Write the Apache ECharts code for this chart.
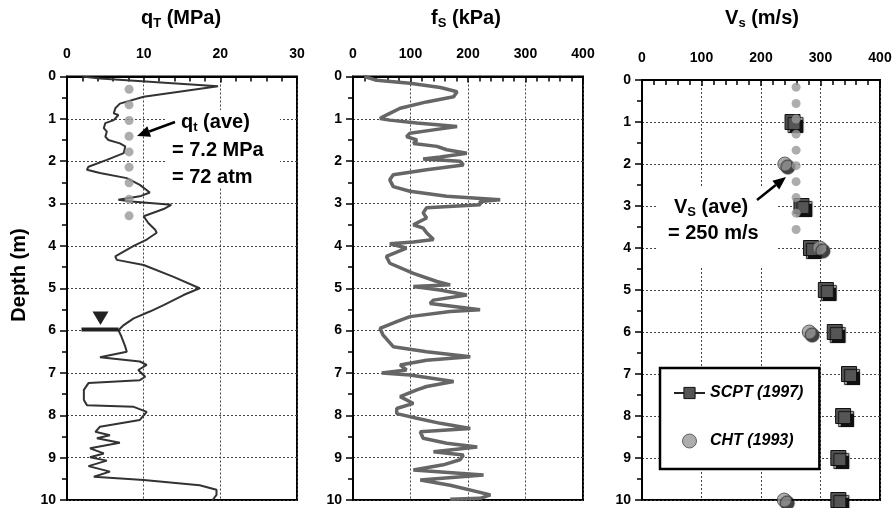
<!DOCTYPE html>
<html>
<head>
<meta charset="utf-8">
<script src="https://cdn.jsdelivr.net/npm/echarts@6/dist/echarts.min.js"></script>
<style>html,body{margin:0;padding:0;background:#fff;}#c{width:896px;height:508px;}</style>
</head>
<body>
<div id="c"></div>
<script>
// ---- data ----
var qtDepth = [0,0.05,0.23,0.48,0.64,0.75,0.87,0.91,1.03,1.1,1.22,1.3,1.42,1.5,1.58,1.65,1.81,1.97,2.13,2.2,2.28,2.4,2.56,2.74,2.83,2.91,2.95,3.03,3.13,3.3,3.46,3.62,3.69,3.85,4.0,4.25,4.33,4.45,4.73,5.0,5.16,5.28,5.4,5.55,5.71,5.87,5.99,6.14,6.38,6.5,6.63,6.73,6.81,6.93,7.09,7.17,7.24,7.4,7.64,7.76,7.8,7.92,8.11,8.27,8.39,8.47,8.54,8.65,8.78,8.9,8.99,9.07,9.2,9.33,9.45,9.53,9.65,9.76,9.88,10];
var qtValue = [2,4.3,19.7,10,6.9,6.3,6.1,6.7,6.1,5.0,4.8,5.2,5.0,5.4,6.9,7.6,7.4,5.2,2.8,2.6,4.3,7.8,9.5,10.8,9.5,6.7,8.4,13.6,12.6,10,10.6,11.5,11.7,10.4,8.7,6.3,6.5,10,13.9,17.3,15.2,13.9,12.6,10.8,8.7,7.4,6.7,7.1,7.6,7.8,4.3,9.5,10.4,9.3,10.2,9.5,2.8,2.2,2.2,2.6,8.7,10.4,9.5,4.3,3.7,5.6,3.9,6.9,3.0,4.8,3.0,5.2,2.8,5.6,3.5,10,17.3,19.5,19.5,19];
var qtAveDepth = [0.3,0.67,1.04,1.41,1.78,2.14,2.51,2.9,3.29];
var qtAveValue = 8.1;

var fsDepth = [0,0.09,0.16,0.26,0.36,0.48,0.6,0.75,0.87,0.95,0.99,1.03,1.1,1.18,1.26,1.34,1.42,1.5,1.58,1.65,1.73,1.81,1.9,1.95,2.0,2.09,2.2,2.32,2.44,2.6,2.71,2.83,2.91,2.95,3.03,3.1,3.22,3.34,3.5,3.58,3.69,3.85,3.91,3.95,4.05,4.25,4.41,4.65,4.84,4.92,4.96,5.04,5.16,5.28,5.36,5.51,5.55,5.67,5.79,5.95,6.1,6.38,6.5,6.62,6.7,6.81,6.93,7.0,7.05,7.2,7.32,7.4,7.56,7.72,7.84,7.96,8.07,8.19,8.31,8.39,8.54,8.66,8.75,8.86,8.94,9.05,9.17,9.29,9.41,9.53,9.65,9.88,9.96,9.98];
var fsValue = [20,41,99,152,181,175,128,82,64,52,47,64,111,181,140,99,93,111,105,146,163,198,152,122,186,192,128,70,64,70,99,163,256,221,221,128,122,128,105,122,128,140,105,64,93,58,64,105,146,169,105,151,198,140,134,221,169,99,76,47,52,70,128,204,128,82,93,50,99,175,128,111,82,105,76,76,111,152,204,117,122,163,216,140,192,186,157,105,227,117,169,239,221,169];

var scptDepth = [1,3,4,5,6,7,8,9,10];
var scptVs = [253,268,284,309,324,348,338,330,330];
var chtDepth = [2,4,6,10];
var chtVs = [240,299,281,239];
var vsAveDepth = [0.17,0.56,0.93,1.29,1.67,2.04,2.42,2.8,3.17,3.56];
var vsAveValue = 259;

var qtTicks = [0,10,20,30];
var kpaTicks = [0,100,200,300,400];
var depthTicks = [0,1,2,3,4,5,6,7,8,9,10];

// ---- helpers ----
var FF = '"Liberation Sans", Arial, sans-serif';
function zip(xs, ys){ return ys.map(function(y,i){ return [xs[i], y]; }); }
function xAx(gi, ticks){
  return {
    type:'value', gridIndex:gi, position:'top',
    min: ticks[0], max: ticks[ticks.length-1], interval: ticks[1]-ticks[0],
    axisLine:{show:true, onZero:false, lineStyle:{color:'#000', width:2}},
    axisTick:{show:true, inside:true, length:6, lineStyle:{color:'#000', width:1.5}},
    minorTick:{show:true, splitNumber:5, length:5, lineStyle:{color:'#000', width:1.5}},
    axisLabel:{margin:15, color:'#000', fontSize:14, fontWeight:'bold', fontFamily:FF},
    splitLine:{show:true, lineStyle:{color:'#444', type:[2,2], width:1}}
  };
}
function yAx(gi){
  return {
    type:'value', gridIndex:gi, inverse:true,
    min: depthTicks[0], max: depthTicks[depthTicks.length-1], interval: 1,
    axisLine:{show:true, onZero:false, lineStyle:{color:'#000', width:2}},
    axisTick:{show:true, inside:false, length:7, lineStyle:{color:'#000', width:1.5}},
    minorTick:{show:true, splitNumber:2, length:5, lineStyle:{color:'#000', width:1.5}},
    axisLabel:{margin:11, color:'#000', fontSize:14, fontWeight:'bold', fontFamily:FF},
    splitLine:{show:true, lineStyle:{color:'#444', type:[2,2], width:1}}
  };
}
function sub(main, s, mainSize, subSize){
  return {
    text: '{a|' + main + '}{s|' + s + '}',
    rich: {
      a: {fontSize: mainSize, fontWeight:'bold', fontFamily:FF, lineHeight: mainSize+4, verticalAlign:'middle', fill:'#000'},
      s: {fontSize: subSize, fontWeight:'bold', fontFamily:FF, lineHeight: subSize+2, verticalAlign:'bottom', fill:'#000'}
    }
  };
}
function richText(x, y, parts, align){
  // parts: array of [text, isSub]
  var t = parts.map(function(p){ return (p[1] ? '{s|' : '{a|') + p[0] + '}'; }).join('');
  return {
    type:'text', x:x, y:y, z:20,
    style:{
      text:t, align: align || 'left', verticalAlign:'middle',
      rich:{
        a:{fontSize:20, fontWeight:'bold', fontFamily:FF, lineHeight:24, verticalAlign:'middle', fill:'#000'},
        s:{fontSize:13, fontWeight:'bold', fontFamily:FF, lineHeight:15, verticalAlign:'bottom', fill:'#000'}
      }
    }
  };
}
function plain(x, y, txt, size){
  return {type:'text', x:x, y:y, z:20, style:{text:txt, fontSize:size||20, fontWeight:'bold', fontFamily:FF, fill:'#000', align:'left', verticalAlign:'middle'}};
}
function arrow(x1, y1, x2, y2){
  var ang = Math.atan2(y2-y1, x2-x1), L = 13, W = 5.5;
  var bx = x2 - L*Math.cos(ang), by = y2 - L*Math.sin(ang);
  var px = -Math.sin(ang), py = Math.cos(ang);
  return [
    {type:'line', z:21, shape:{x1:x1, y1:y1, x2:bx, y2:by}, style:{stroke:'#000', lineWidth:2.5}},
    {type:'polygon', z:21, shape:{points:[[x2,y2],[bx+px*W, by+py*W],[bx-px*W, by-py*W]]}, style:{fill:'#000'}}
  ];
}

var chart = echarts.init(document.getElementById('c'), null, {renderer:'canvas'});
var grids = [
  {left:67, top:76.5, width:230, height:423.5},
  {left:353, top:76.5, width:230, height:423.5},
  {left:642, top:80, width:238, height:420}
].map(function(g){ return Object.assign({show:true, borderColor:'#000', borderWidth:2, backgroundColor:'transparent'}, g); });

var graphics = [
  // white backgrounds behind annotations
  {type:'rect', z:10, shape:{x:166, y:110, width:114, height:77}, style:{fill:'#fff'}},
  {type:'rect', z:10, shape:{x:656, y:187, width:122, height:81}, style:{fill:'#fff'}},
  // titles
  richText(181, 18, [['q',0],['T',1],[' (MPa)',0]], 'center'),
  richText(466, 18, [['f',0],['S',1],[' (kPa)',0]], 'center'),
  richText(762, 18, [['V',0],['s',1],[' (m/s)',0]], 'center'),
  // depth label
  {type:'text', x:19, y:275, rotation:Math.PI/2, z:20, style:{text:'Depth (m)', fontSize:20, fontWeight:'bold', fontFamily:FF, fill:'#000', align:'center', verticalAlign:'middle'}},
  // annotations panel 1
  richText(181, 122, [['q',0],['t',1],[' (ave)',0]]),
  plain(172, 150, '= 7.2 MPa'),
  plain(172, 177, '= 72 atm'),
  // annotations panel 3
  richText(674, 207, [['V',0],['S',1],[' (ave)',0]]),
  plain(668, 233, '= 250 m/s'),
  // water table symbol
  {type:'polygon', z:21, shape:{points:[[92.5,311.5],[108.5,311.5],[100.5,325]]}, style:{fill:'#222'}},
  {type:'rect', z:21, shape:{x:81.5, y:327.5, width:37, height:4}, style:{fill:'#222'}}
].concat(arrow(175, 122, 137, 136)).concat(arrow(757, 200, 786, 177));

var option = {
  animation:false,
  backgroundColor:'#fff',
  grid: grids,
  xAxis: [xAx(0, qtTicks), xAx(1, kpaTicks), xAx(2, kpaTicks)],
  yAxis: [yAx(0), yAx(1), yAx(2)],
  legend: {
    left:660, top:368, orient:'vertical', itemWidth:31, itemHeight:14, itemGap:32,
    padding:[17,16,20,13], borderColor:'#000', borderWidth:2.5, backgroundColor:'#fff', z:30,
    textStyle:{fontFamily:FF, fontSize:16, fontWeight:'bold', fontStyle:'italic', color:'#000'},
    itemTextGap:5,
    data:[
      {name:'SCPT (1997)', lineStyle:{width:2, color:'#222', opacity:1}, itemStyle:{color:'#555', borderColor:'#111', borderWidth:1, shadowColor:'transparent', shadowOffsetX:0, shadowOffsetY:0}},
      {name:'CHT (1993)', itemStyle:{color:'#999', borderColor:'#444', borderWidth:1, shadowColor:'transparent', shadowOffsetX:0, shadowOffsetY:0}}
    ],
    selectedMode:false
  },
  graphic: graphics,
  series: [
    {type:'line', name:'qT', xAxisIndex:0, yAxisIndex:0, data: zip(qtValue, qtDepth), showSymbol:false, symbol:'none',
      lineStyle:{color:'#333', width:2}, z:3},
    {type:'scatter', name:'qtAve', xAxisIndex:0, yAxisIndex:0, data: qtAveDepth.map(function(d){ return [qtAveValue, d]; }),
      symbol:'circle', symbolSize:9, itemStyle:{color:'#999'}, z:4},
    {type:'line', name:'fS', xAxisIndex:1, yAxisIndex:1, data: zip(fsValue, fsDepth), showSymbol:false, symbol:'none',
      lineStyle:{color:'#666', width:3.5}, z:3},
    {type:'line', name:'SCPT (1997)', xAxisIndex:2, yAxisIndex:2, data: zip(scptVs, scptDepth),
      symbol:'rect', symbolSize:15, showSymbol:true, lineStyle:{opacity:0, width:0},
      itemStyle:{color:'#555', borderColor:'#111', borderWidth:1, shadowColor:'#111', shadowOffsetX:3, shadowOffsetY:3, shadowBlur:1}, z:3},
    {type:'scatter', name:'CHT (1993)', xAxisIndex:2, yAxisIndex:2, data: zip(chtVs, chtDepth),
      symbol:'circle', symbolSize:14, itemStyle:{color:'#999', borderColor:'#444', borderWidth:1, shadowColor:'#111', shadowOffsetX:3, shadowOffsetY:3, shadowBlur:1}, z:4},
    {type:'scatter', name:'vsAve', xAxisIndex:2, yAxisIndex:2, data: vsAveDepth.map(function(d){ return [vsAveValue, d]; }),
      symbol:'circle', symbolSize:9, itemStyle:{color:'#999'}, z:5}
  ]
};
chart.setOption(option);
</script>
</body>
</html>
